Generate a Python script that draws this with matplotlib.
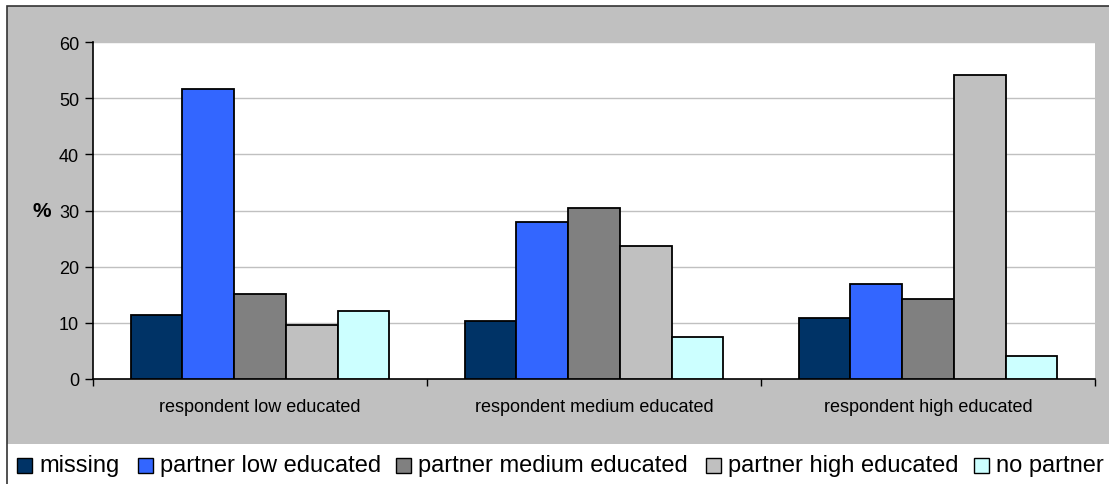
import numpy as np
import matplotlib
matplotlib.use("Agg")
import matplotlib.pyplot as plt
from matplotlib.patches import Rectangle

plt.rcParams['font.family'] = ['Liberation Sans', 'DejaVu Sans']

# Share of respondents by partner's education, per respondent education level
groups = ['respondent low educated', 'respondent medium educated', 'respondent high educated']
series = ['missing', 'partner low educated', 'partner medium educated',
          'partner high educated', 'no partner']
missing = [11.4, 10.4, 10.8]
partner_low = [51.7, 28.0, 17.0]
partner_medium = [15.2, 30.5, 14.2]
partner_high = [9.7, 23.6, 54.1]
no_partner = [12.1, 7.5, 4.1]
values = [missing, partner_low, partner_medium, partner_high, no_partner]
colors = ['#003366', '#3366FF', '#808080', '#C0C0C0', '#CCFFFF']

W, H = 1109, 485
fig = plt.figure(figsize=(W / 100, H / 100), dpi=100)
fig.patch.set_facecolor('white')

# grey chart area with a dark frame; legend strip below stays white
fig.patches.append(Rectangle((7 / W, 1 - 445 / H), 1.0, 438 / H,
                             transform=fig.transFigure, facecolor='#C0C0C0',
                             edgecolor='none', zorder=-10))
fig.patches.append(Rectangle((7 / W, -0.1), 1.0, 1 - 7 / H + 0.1,
                             transform=fig.transFigure, facecolor='none',
                             edgecolor='#333333', linewidth=1.2, zorder=-9))

ax = fig.add_axes([93 / W, 1 - 380 / H, (1095 - 93) / W, (380 - 43) / H])
ax.set_facecolor('white')

x = np.arange(len(groups))
width = 0.155
for i, (vals, col) in enumerate(zip(values, colors)):
    ax.bar(x + (i - 2) * width, vals, width, color=col, edgecolor='black',
           linewidth=1.3, zorder=3)

ax.set_xlim(-0.5, 2.5)
ax.set_ylim(0, 60)
ax.set_yticks(range(0, 61, 10))
ax.yaxis.grid(True, color='#C0C0C0', linewidth=1.0, zorder=0)
ax.tick_params(axis='y', direction='out', length=6, width=1, labelsize=13,
               pad=4, colors='black')

ax.set_xticks([-0.5, 0.5, 1.5, 2.5])
ax.set_xticklabels([])
ax.tick_params(axis='x', which='major', direction='out', length=5, width=1)
ax.set_xticks(x, minor=True)
ax.set_xticklabels(groups, minor=True, fontsize=13)
ax.tick_params(axis='x', which='minor', length=0, pad=14)

for side in ['top', 'right']:
    ax.spines[side].set_visible(False)
for side in ['left', 'bottom']:
    ax.spines[side].set_linewidth(1.2)
    ax.spines[side].set_color('black')

ax.set_ylabel('%', rotation=0, fontsize=15, fontweight='bold', labelpad=12,
              va='center')

# legend row
marker_x = [17, 138, 396, 706, 974]
leg_y = 466
for px, label, col in zip(marker_x, series, colors):
    fig.patches.append(Rectangle((px / W, 1 - (leg_y + 8) / H), 15 / W, 15 / H,
                                 transform=fig.transFigure, facecolor=col,
                                 edgecolor='black', linewidth=1.0, zorder=2))
    fig.text((px + 22) / W, 1 - leg_y / H, label, fontsize=17, va='center',
             ha='left')

fig.savefig('out.png', dpi=100)
